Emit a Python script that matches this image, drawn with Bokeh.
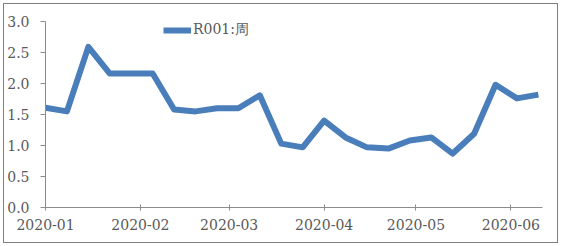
import pandas as pd
from bokeh.plotting import figure
from bokeh.models import (FixedTicker, DatetimeTickFormatter, PrintfTickFormatter,
                          Range1d, Legend, LegendItem)
from bokeh.embed import file_html
from bokeh.resources import INLINE

# ---- data ----
dates = ["2020-01-03", "2020-01-10", "2020-01-17", "2020-01-24", "2020-01-31",
         "2020-02-07", "2020-02-14", "2020-02-21", "2020-02-28", "2020-03-06",
         "2020-03-13", "2020-03-20", "2020-03-27", "2020-04-03", "2020-04-10",
         "2020-04-17", "2020-04-24", "2020-05-01", "2020-05-08", "2020-05-15",
         "2020-05-22", "2020-05-29", "2020-06-05", "2020-06-12"]
r001 = [1.61, 1.55, 2.59, 2.16, 2.16, 2.16, 1.58, 1.55, 1.60, 1.60,
        1.81, 1.03, 0.97, 1.40, 1.13, 0.97, 0.95, 1.08, 1.13, 0.87,
        1.19, 1.98, 1.76, 1.82]
tick_dates = ["2020-01-03", "2020-02-03", "2020-03-03", "2020-04-03",
              "2020-05-03", "2020-06-03"]
y_ticks = [0, 0.5, 1.0, 1.5, 2.0, 2.5, 3.0]
series_name = "R001:周"

x = pd.to_datetime(dates)
ticks = [pd.Timestamp(d).value / 1e6 for d in tick_dates]

FONT = "DejaVu Serif"
TXT = "#595959"
AX = "#8c8c8c"

p = figure(width=561, height=246, x_axis_type="datetime",
           output_backend="svg", toolbar_location=None,
           x_range=Range1d(pd.Timestamp("2020-01-03"), pd.Timestamp("2020-06-13 08:00")),
           y_range=Range1d(0, 3.0),
           min_border_left=45, min_border_right=19,
           min_border_top=21, min_border_bottom=39,
           styles={"outline": "1px solid #7f7f7f", "outline-offset": "-4px"})
p.outline_line_color = None
p.grid.visible = False
p.background_fill_color = "white"
p.border_fill_alpha = 0

r = p.line(x, r001, line_color="#4a7ebb", line_width=6, line_join="round")

# axes
p.xaxis.ticker = FixedTicker(ticks=ticks)
p.xaxis.formatter = DatetimeTickFormatter(days="%Y-%m", months="%Y-%m",
                                          years="%Y-%m", hours="%Y-%m")
p.yaxis.ticker = FixedTicker(ticks=y_ticks)
p.yaxis.formatter = PrintfTickFormatter(format="%.1f")

for ax in (p.xaxis, p.yaxis):
    ax.axis_line_color = AX
    ax.major_tick_line_color = AX
    ax.minor_tick_line_color = None
    ax.major_label_text_color = TXT
    ax.major_label_text_font = FONT
    ax.major_label_text_font_size = "14px"
p.xaxis.major_tick_in = 3
p.xaxis.major_tick_out = 3
p.xaxis.major_label_standoff = 8
p.yaxis.major_tick_in = 0
p.yaxis.major_tick_out = 5
p.yaxis.major_label_standoff = 11

legend = Legend(items=[LegendItem(label=series_name, renderers=[r])],
                location=(118, 168), padding=0, margin=0,
                glyph_width=28, glyph_height=16, label_height=16,
                label_standoff=2, border_line_color=None,
                background_fill_alpha=0,
                label_text_font=FONT, label_text_font_size="14px",
                label_text_color=TXT)
p.add_layout(legend, "center")

open("out.html", "w").write(file_html(p, INLINE))
